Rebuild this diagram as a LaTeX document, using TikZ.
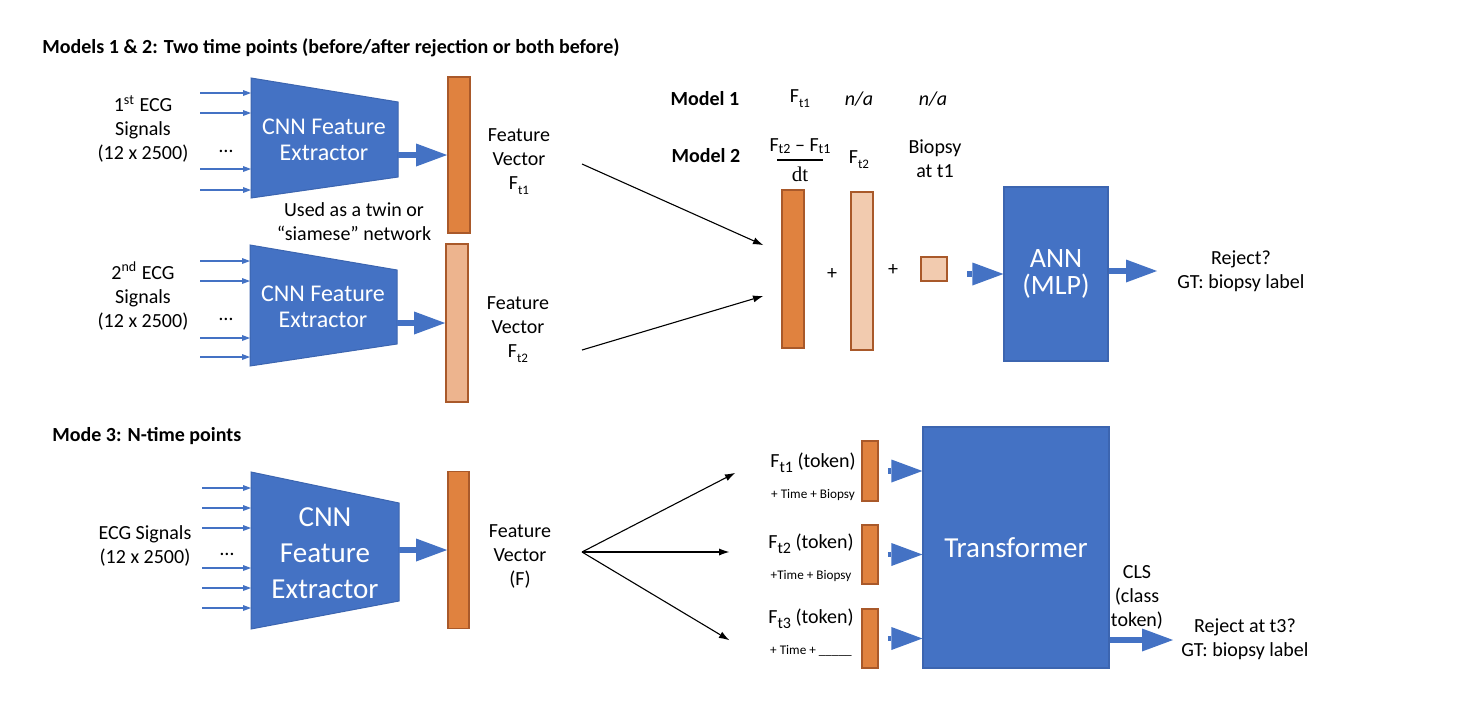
\documentclass[tikz,border=0pt]{standalone}
\usepackage{fontspec}
\setmainfont{Carlito}
\newfontfamily\serifdt{Liberation Serif}
\usetikzlibrary{arrows.meta,calc}
\definecolor{cblue}{HTML}{4472C4}
\definecolor{cbord}{HTML}{3C65B0}
\definecolor{odark}{HTML}{E0823F}
\definecolor{obord}{HTML}{A9592A}
\definecolor{omid}{HTML}{EDB48E}
\definecolor{olight}{HTML}{F2CBAF}
\newcommand\lsub[1]{\raisebox{-2.6pt}{\fontsize{6.5}{6.5}\selectfont #1}}
\newcommand\nsub[1]{\raisebox{-1.2pt}{\fontsize{7}{7}\selectfont #1}}
\newcommand\tsub[1]{\raisebox{-2.4pt}{\fontsize{8}{8}\selectfont #1}}
\tikzset{
  txt/.style={inner sep=0pt, align=center, font=\fontsize{10}{12}\selectfont},
  btxt/.style={inner sep=0pt, font=\fontsize{10}{12}\selectfont\bfseries},
  smalltxt/.style={inner sep=0pt, font=\fontsize{6.6}{8}\selectfont},
  cnn/.style={fill=cblue, draw=cbord, line width=0.5pt},
  wlab/.style={text=white, align=center, inner sep=0pt},
  bar/.style={draw=obord, line width=0.9pt, inner sep=0pt, minimum width=11pt},
  bardark/.style={bar, fill=odark},
  barmid/.style={bar, fill=omid},
  barlight/.style={bar, fill=olight},
  sig/.style={draw=cblue, line width=0.6pt, -{Triangle[length=4pt,width=3pt,line width=0pt]}},
  bigarrow/.style={draw=cblue, line width=2.75pt, -{Triangle[length=15.5pt,width=11.5pt,line width=0pt]}},
  thinarrow/.style={draw=black, line width=0.55pt, -{Latex[length=5pt,width=3.5pt,line width=0pt]}},
  bigbox/.style={fill=cblue, draw=cbord, line width=0.6pt, inner sep=0pt, text=white, align=center},
}
\begin{document}
\begin{tikzpicture}[x=0.5pt,y=-0.5pt]
\fill[white] (0,0) rectangle (1458,702);
\useasboundingbox (0,0) rectangle (1458,702);

% ---------- titles
\node[btxt, anchor=west] (title1) at (42,48) {Models 1 \& 2: Two time points (before/after rejection or both before)};
\node[btxt, anchor=west] (title3) at (52,436) {Mode 3: N-time points};

% ---------- CNN 1
\path[cnn] (251,78) -- (398,102) -- (398,177) -- (251,198) -- cycle;
\node[wlab, font=\fontsize{12}{13}\selectfont] (cnn1) at (324,140) {CNN Feature\\Extractor};
\foreach \y [count=\i] in {93,113,169,190} {
  \coordinate (sa\i) at (200,\y); \coordinate (sb\i) at (251,\y);
  \draw[sig] (sa\i) -- (sb\i);
}
\node[txt, anchor=base] (dots1) at (226,152) {…};
\node[txt] (ecg1) at (143,129) {1\textsuperscript{st} ECG\\Signals\\(12 x 2500)};
\node[bardark, minimum height=78pt] (b1) at (459,155) {};
\coordinate (t1r) at (398,155);
\draw[bigarrow] (t1r) -- (t1r -| b1.west);
\node[txt] (fv1) at (519,162) {Feature\\Vector\\F\lsub{t1}};
\node[txt] (twin) at (354,222) {Used as a twin or\\“siamese” network};

% ---------- CNN 2
\path[cnn] (250,245) -- (397,270) -- (397,344) -- (250,366) -- cycle;
\node[wlab, font=\fontsize{12}{13}\selectfont] (cnn2) at (323,307) {CNN Feature\\Extractor};
\foreach \y [count=\i] in {261,281,338,357} {
  \coordinate (sc\i) at (200,\y); \coordinate (sd\i) at (250,\y);
  \draw[sig] (sc\i) -- (sd\i);
}
\node[txt, anchor=base] (dots2) at (226,320) {…};
\node[txt] (ecg2) at (143,296) {2\textsuperscript{nd} ECG\\Signals\\(12 x 2500)};
\node[barmid, minimum height=79pt] (b2) at (457,323) {};
\coordinate (t2r) at (397,323);
\draw[bigarrow] (t2r) -- (t2r -| b2.west);
\node[txt] (fv2) at (518,330) {Feature\\Vector\\F\lsub{t2}};

% ---------- arrows to the combined vector
\coordinate (fa1) at (582,164); \coordinate (fa2) at (763,245);
\coordinate (fb1) at (582,350); \coordinate (fb2) at (763,296);
\draw[thinarrow] (fa1) -- (fa2);
\draw[thinarrow] (fb1) -- (fb2);

% ---------- model table
\node[btxt] (m1) at (705,99) {Model 1};
\node[txt] (m1a) at (800,99) {F\lsub{t1}};
\node[txt, font=\fontsize{10}{12}\selectfont\itshape] (m1b) at (859,99) {n/a};
\node[txt, font=\fontsize{10}{12}\selectfont\itshape] (m1c) at (933,99) {n/a};
\node[btxt] (m2) at (706,156) {Model 2};
\node[txt, anchor=base] (num) at (800,151) {F\nsub{t2} – F\nsub{t1}};
\draw[line width=0.8pt] (777,160) -- (823,160);
\node[txt, font=\fontsize{10.5}{12}\selectfont\serifdt] (den) at (800,174) {dt};
\node[txt] (m2b) at (859,160) {F\lsub{t2}};
\node[txt] (m2c) at (935,159) {Biopsy\\at t1};

% ---------- combined vector
\node[bardark, minimum height=79pt] (ba) at (793,269) {};
\node[txt] (plus1) at (832,274) {+};
\node[barlight, minimum height=79pt] (bb) at (862,271) {};
\node[txt] (plus2) at (893,270) {+};
\node[barlight, minimum width=13pt, minimum height=12pt] (sq) at (934,269) {};

% ---------- ANN
\node[bigbox, minimum width=52pt, minimum height=87pt, font=\fontsize{14}{13.5}\selectfont] (ann) at (1056,274) {ANN\\(MLP)};
\draw[bigarrow] ([xshift=-18pt]ann.west) -- (ann.west);
\coordinate (rej) at (1157,271);
\draw[bigarrow] (rej -| ann.east) -- (rej);
\node[txt] (rejt) at (1241,271) {Reject?\\GT: biopsy label};

% ---------- CNN 3
\path[cnn] (251,472) -- (399,503) -- (399,601) -- (251,629) -- cycle;
\node[wlab, font=\fontsize{14.5}{18}\selectfont] (cnn3) at (325,553) {CNN\\Feature\\Extractor};
\foreach \y [count=\i] in {488,508,528,568,588,608} {
  \coordinate (se\i) at (202,\y); \coordinate (sf\i) at (251,\y);
  \draw[sig] (se\i) -- (sf\i);
}
\node[txt, anchor=base] (dots3) at (227,555) {…};
\node[txt] (ecg3) at (145,546) {ECG Signals\\(12 x 2500)};
\node[bardark, minimum width=10.5pt, minimum height=78.5pt] (b3) at (458.5,550) {};
\coordinate (t3r) at (399,550);
\draw[bigarrow] (t3r) -- (t3r -| b3.west);
\node[txt] (fv3) at (520,556) {Feature\\Vector\\(F)};

% ---------- fan out
\coordinate (fan) at (582,552);
\coordinate (fe1) at (735,473);
\coordinate (fe2) at (729,552);
\coordinate (fe3) at (729,640);
\draw[thinarrow] (fan) -- (fe1);
\draw[thinarrow] (fan) -- (fe2);
\draw[thinarrow] (fan) -- (fe3);

% ---------- tokens
\node[txt] (tk1t) at (813,463) {F\tsub{t1} (token)};
\node[smalltxt] (tk1s) at (813,495) {+ Time + Biopsy};
\node[txt] (tk2t) at (811,544) {F\tsub{t2} (token)};
\node[smalltxt] (tk2s) at (811,576) {+Time + Biopsy};
\node[txt] (tk3t) at (811,619) {F\tsub{t3} (token)};
\node[smalltxt] (tk3s) at (811,651) {+ Time + \_\_\_\_\_};
\node[bardark, minimum width=8pt, minimum height=30pt] (tk1) at (870,471) {};
\node[bardark, minimum width=8pt, minimum height=29.5pt] (tk2) at (870,554.5) {};
\node[bardark, minimum width=8pt, minimum height=29.5pt] (tk3) at (870,638.5) {};

% ---------- transformer
\node[bigbox, minimum width=93pt, minimum height=120.5pt, font=\fontsize{14.5}{16}\selectfont] (tr) at (1016,547.5) {Transformer};
\draw[bigarrow, shorten <=4.5pt] (tk1.east) -- (tk1.east -| tr.west);
\draw[bigarrow, shorten <=4.5pt] (tk2.east) -- (tk2.east -| tr.west);
\draw[bigarrow, shorten <=4.5pt] (tk3.east) -- (tk3.east -| tr.west);
\coordinate (cls) at (1173,640);
\draw[bigarrow] (cls -| tr.east) -- (cls);
\node[txt] (clst) at (1137,597) {CLS\\(class\\token)};
\node[txt] (rej3) at (1245,639) {Reject at t3?\\GT: biopsy label};
\end{tikzpicture}
\end{document}
